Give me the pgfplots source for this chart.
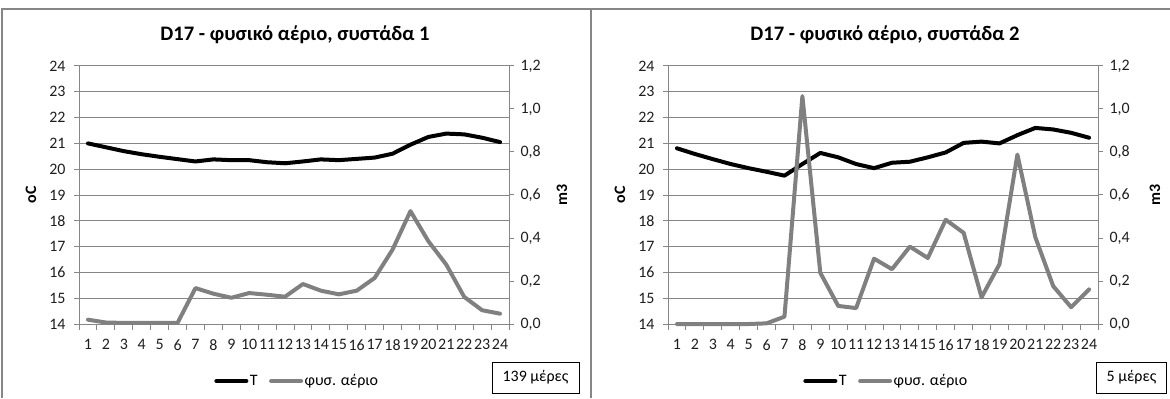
\documentclass[border=0pt]{standalone}
\usepackage{fontspec}
\setmainfont{Carlito}
\usepackage{pgfplots}
\usepackage{pgfplotstable}
\pgfplotsset{compat=1.18}

\definecolor{framegray}{RGB}{134,134,134}
\definecolor{gridgray}{RGB}{134,134,134}
\definecolor{gasgray}{RGB}{128,128,128}
\definecolor{ticktext}{RGB}{30,30,30}

% hourly temperature (oC) and gas consumption (m3), cluster 1
\pgfplotstableread{
h  T      G
1  21.00  0.020
2  20.85  0.007
3  20.70  0.005
4  20.58  0.005
5  20.48  0.005
6  20.39  0.005
7  20.30  0.167
8  20.38  0.141
9  20.35  0.122
10 20.35  0.144
11 20.27  0.136
12 20.23  0.127
13 20.30  0.186
14 20.38  0.155
15 20.35  0.138
16 20.40  0.155
17 20.45  0.214
18 20.60  0.346
19 20.95  0.525
20 21.25  0.385
21 21.38  0.276
22 21.35  0.126
23 21.22  0.064
24 21.05  0.048
}\clusterA

% cluster 2
\pgfplotstableread{
h  T      G
1  20.81  0.000
2  20.59  0.000
3  20.39  0.000
4  20.20  0.000
5  20.04  0.000
6  19.90  0.003
7  19.75  0.034
8  20.20  1.060
9  20.63  0.238
10 20.46  0.084
11 20.20  0.074
12 20.04  0.304
13 20.25  0.255
14 20.29  0.360
15 20.46  0.307
16 20.65  0.485
17 21.02  0.424
18 21.07  0.124
19 21.00  0.278
20 21.32  0.788
21 21.60  0.404
22 21.54  0.176
23 21.41  0.078
24 21.22  0.161
}\clusterB

\newcommand\txt{\fontsize{16}{18}\selectfont}

\pgfplotsset{
  base/.style={
    scale only axis, width=430bp, height=258bp,
    anchor=south west,
    xmin=0.5, xmax=24.5,
    tick align=outside,
    tick label style={font=\txt, text=ticktext},
    /pgf/number format/assume math mode=true,
    clip=false,
  },
  tempaxis/.style={
    base,
    ymin=14, ymax=24, ytick={14,...,24},
    ymajorgrids, grid style={gridgray, line width=1bp},
    axis x line*=bottom, axis y line*=left,
    every outer x axis line/.style={draw=gridgray, line width=1bp},
    every outer y axis line/.style={draw=gridgray, line width=1bp},
    xtick={1,...,24}, major x tick style={draw=none},
    minor xtick={0.5,1.5,...,24.5},
    minor x tick style={draw=gridgray, line width=1bp},
    minor tick length=6bp,
    major y tick style={draw=gridgray, line width=1bp},
    major tick length=5bp,
    xticklabel style={yshift=-7bp},
    yticklabel style={xshift=-5bp},
    legend style={at={(0.507,-0.221)}, anchor=center, draw=none, fill=none,
      font=\txt, legend columns=2,
      nodes={inner sep=1.5bp},
      /tikz/every even column/.append style={column sep=10bp},
      inner sep=0pt},
    legend image code/.code={\draw[#1] (0bp,0bp) -- (30bp,0bp);},
  },
  gasaxis/.style={
    base,
    ymin=0, ymax=1.2, ytick={0,0.2,0.4,0.6,0.8,1.0,1.2},
    axis y line*=right, axis x line=none,
    every outer y axis line/.style={draw=gridgray, line width=1bp},
    major y tick style={draw=gridgray, line width=1bp},
    major tick length=5bp,
    yticklabel style={xshift=3bp,
      /pgf/number format/.cd, fixed, fixed zerofill, precision=1, use comma},
  },
  Tline/.style={black, line width=4bp, line join=round, line cap=round},
  Gline/.style={gasgray, line width=4bp, line join=round, line cap=round},
}

\begin{document}
\begin{tikzpicture}[x=1bp, y=1bp]
\useasboundingbox (0,0) rectangle (1170,398);

% outer frames of the two chart panels
\draw[framegray, line width=1.4bp] (2,0) -- (2,389) -- (1170,389);
\draw[framegray, line width=1.4bp] (591,0) -- (591,389);

% ---------- cluster 1 ----------
\begin{axis}[tempaxis, at={(79bp,74bp)}]
  \addplot[Tline] table[x=h, y=T] {\clusterA};
  \addlegendentry{T}
  \addlegendimage{Gline}
  \addlegendentry{φυσ. αέριο}
\end{axis}
\begin{axis}[gasaxis, at={(79bp,74bp)}]
  \addplot[Gline] table[x=h, y=G] {\clusterA};
\end{axis}
\node[font=\bfseries\fontsize{20.7}{22}\selectfont] at (295,363) {D17 - φυσικό αέριο, συστάδα 1};
\node[font=\bfseries\txt, rotate=90] at (31,203) {oC};
\node[font=\bfseries\txt, rotate=90] at (562,203) {m3};
\node[draw=black, line width=0.8bp, minimum width=87bp, minimum height=31bp,
      font=\txt, inner sep=0pt] at (535.5,20.5) {139 μέρες};

% ---------- cluster 2 ----------
\begin{axis}[tempaxis, at={(668bp,74bp)}]
  \addplot[Tline] table[x=h, y=T] {\clusterB};
  \addlegendentry{T}
  \addlegendimage{Gline}
  \addlegendentry{φυσ. αέριο}
\end{axis}
\begin{axis}[gasaxis, at={(668bp,74bp)}]
  \addplot[Gline] table[x=h, y=G] {\clusterB};
\end{axis}
\node[font=\bfseries\fontsize{20.7}{22}\selectfont] at (885,363) {D17 - φυσικό αέριο, συστάδα 2};
\node[font=\bfseries\txt, rotate=90] at (620,203) {oC};
\node[font=\bfseries\txt, rotate=90] at (1155,203) {m3};
\node[draw=black, line width=0.8bp, minimum width=70bp, minimum height=31bp,
      font=\txt, inner sep=0pt] at (1131.5,20.5) {5 μέρες};
\end{tikzpicture}
\end{document}
